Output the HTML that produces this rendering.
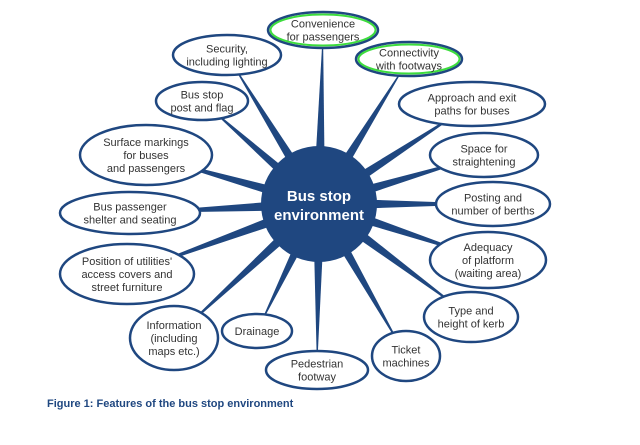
<!DOCTYPE html>
<html><head><meta charset="utf-8"><style>
body{margin:0;background:#fff;width:640px;height:440px;overflow:hidden}
svg text{font-family:"Liberation Sans",sans-serif;font-size:11px;fill:#333;text-anchor:middle}
</style></head><body>
<svg id="s" width="640" height="440" xmlns="http://www.w3.org/2000/svg">
<g id="sp"></g>
<circle cx="319" cy="204" r="58" fill="#1f4780"/>
<text x="319" y="201" style="font-size:15px;font-weight:bold;fill:#fff">Bus stop</text>
<text x="319" y="220" style="font-size:15px;font-weight:bold;fill:#fff">environment</text>
<g id="el"></g>
<text x="47" y="407" style="text-anchor:start;font-size:11px;font-weight:bold;fill:#1f4780">Figure 1: Features of the bus stop environment</text>
</svg>
<script>
var N=[
[323,30,55,18,["Convenience","for passengers"],1],
[409,59,53,17,["Connectivity","with footways"],1],
[227,55,54,20,["Security,","including lighting"]],
[202,101,46,19,["Bus stop","post and flag"]],
[472,104,73,22,["Approach and exit","paths for buses"]],
[146,155,66,30,["Surface markings","for buses","and passengers"]],
[484,155,54,22,["Space for","straightening"]],
[493,204,57,22,["Posting and","number of berths"]],
[130,213,70,21,["Bus passenger","shelter and seating"]],
[488,260,58,28,["Adequacy","of platform","(waiting area)"]],
[127,274,67,30,["Position of utilities'","access covers and","street furniture"]],
[471,317,47,25,["Type and","height of kerb"]],
[174,338,44,32,["Information","(including","maps etc.)"]],
[257,331,35,17,["Drainage"]],
[317,370,51,19,["Pedestrian","footway"]],
[406,356,34,25,["Ticket","machines"]]
];
var ns="http://www.w3.org/2000/svg",sp=document.getElementById('sp'),el=document.getElementById('el');
function mk(t,a,p){var e=document.createElementNS(ns,t);for(var k in a)e.setAttribute(k,a[k]);p.appendChild(e);return e;}
var cx=319,cy=204;
N.forEach(function(n){
 var dx=n[0]-cx,dy=n[1]-cy,L=Math.hypot(dx,dy),px=-dy/L*6,py=dx/L*6;
 mk('polygon',{points:(cx+px)+','+(cy+py)+' '+(cx-px)+','+(cy-py)+' '+n[0]+','+n[1],fill:'#1f4780'},sp);
 mk('ellipse',{cx:n[0],cy:n[1],rx:n[2],ry:n[3],fill:'#fff',stroke:'#1f4780','stroke-width':2.5},el);
 if(n[5])mk('ellipse',{cx:n[0],cy:n[1],rx:n[2]-2.5,ry:n[3]-2.5,fill:'none',stroke:'#3ddc3d','stroke-width':2},el);
 var ls=n[4],h=13,y0=n[1]-(ls.length-1)*h/2+4;
 ls.forEach(function(s,i){var t=mk('text',{x:n[0],y:y0+i*h},el);t.textContent=s;});
});
</script>
</body></html>
